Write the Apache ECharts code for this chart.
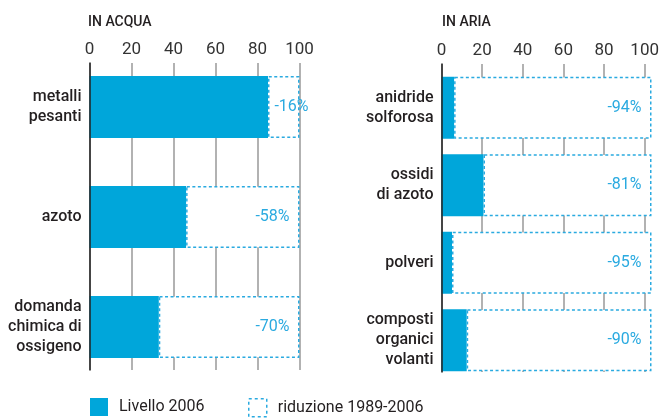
<!DOCTYPE html>
<html><head><meta charset="utf-8">
<script src="https://cdn.jsdelivr.net/npm/echarts@6/dist/echarts.min.js"></script>
<style>html,body{margin:0;padding:0;background:#fff}#c{width:662px;height:418px}</style>
</head><body><div id="c"></div>
<script>
const categoriesAcqua = ['metalli\npesanti', 'azoto', 'domanda\nchimica di\nossigeno'];
const livelloAcqua = [85, 46, 33];
const riduzioneAcqua = ['-16%', '-58%', '-70%'];
const categoriesAria = ['anidride\nsolforosa', 'ossidi\ndi azoto', 'polveri', 'composti\norganici\nvolanti'];
const livelloAria = [6, 20, 5, 12];
const riduzioneAria = ['-94%', '-81%', '-95%', '-90%'];
const xMin = 0, xMax = 100, xStep = 20;
const titles = ['IN ACQUA', 'IN ARIA'];

const BLUE = '#00a6da';
const LBLUE = '#2aaae0';
const FONT = 'Roboto';

const chart = echarts.init(document.getElementById('c'));

function remainder(vals, offsets) {
  return vals.map((v, i) => {
    const item = { value: xMax - v };
    if (offsets && offsets[i]) item.label = { offset: offsets[i] };
    return item;
  });
}

const catAxis = (data, gi) => ({
  type: 'category', gridIndex: gi, data: data, inverse: true,
  axisLine: { show: false }, axisTick: { show: false },
  axisLabel: { color: '#231f20', fontFamily: FONT, fontSize: 16, fontWeight: 500, lineHeight: 20, margin: 8, align: 'right' }
});
const hiddenX = gi => ({ type: 'value', gridIndex: gi, min: xMin, max: xMax, show: false });
const lineX = gi => ({
  type: 'value', gridIndex: gi, min: xMin, max: xMax, interval: xStep, position: 'top',
  axisLine: { show: false }, axisTick: { show: false },
  axisLabel: { color: '#333', fontFamily: FONT, fontSize: 17, margin: 5 },
  splitLine: { show: true, lineStyle: { color: '#999', width: 1.5 } }
});
const lineY = gi => ({
  type: 'value', gridIndex: gi, min: 0, max: 1, z: 5,
  axisLine: { show: true, lineStyle: { color: '#222', width: 1.5 } },
  axisTick: { show: false }, axisLabel: { show: false }, splitLine: { show: false }
});

const livelloStyle = { color: BLUE };
const ridStyle = { color: '#fff', borderColor: LBLUE, borderWidth: 1.5, borderType: [3, 2.5] };
const ridLabel = arr => ({
  show: true, position: 'insideRight', distance: 10, color: LBLUE, fontFamily: FONT, fontSize: 16,
  formatter: p => arr[p.dataIndex]
});
const legendText = { fontFamily: FONT, fontSize: 16, color: '#231f20', padding: [0, 0, 0, 6] };

const option = {
  animation: false,
  title: [
    { text: titles[0], left: 83, top: 10, textStyle: { fontFamily: FONT, fontSize: 14, fontWeight: 500, color: '#231f20' } },
    { text: titles[1], left: 437, top: 10, textStyle: { fontFamily: FONT, fontSize: 14, fontWeight: 500, color: '#231f20' } }
  ],
  grid: [
    { left: 89.5, width: 210, top: 52, height: 330 },
    { left: 89.5, width: 210, top: 63, height: 307 },
    { left: 441.5, width: 210, top: 69, height: 310 },
    { left: 441.5, width: 210, top: 64, height: 308 }
  ],
  xAxis: [hiddenX(0), lineX(1), hiddenX(2), lineX(3)],
  yAxis: [catAxis(categoriesAcqua, 0), lineY(1), catAxis(categoriesAria, 2), lineY(3)],
  legend: [
    { data: ['Livello 2006'], left: 90, top: 398, padding: 0, itemWidth: 18, itemHeight: 18, icon: 'rect',
      itemStyle: { color: BLUE, borderWidth: 0 }, textStyle: legendText },
    { data: ['riduzione 1989-2006'], left: 248, top: 398, padding: 0, itemWidth: 18, itemHeight: 18, icon: 'rect',
      itemStyle: { color: '#fff', borderColor: LBLUE, borderWidth: 1.5, borderType: [3, 3] }, textStyle: legendText }
  ],
  series: [
    { name: 'Livello 2006', type: 'bar', stack: 'a', xAxisIndex: 0, yAxisIndex: 0, barWidth: 62,
      data: livelloAcqua, itemStyle: livelloStyle },
    { name: 'riduzione 1989-2006', type: 'bar', stack: 'a', xAxisIndex: 0, yAxisIndex: 0, barWidth: 62,
      data: remainder(livelloAcqua, [[19, 0]]), itemStyle: ridStyle, label: ridLabel(riduzioneAcqua) },
    { name: 'Livello 2006', type: 'bar', stack: 'b', xAxisIndex: 2, yAxisIndex: 2, barWidth: 62,
      data: livelloAria, itemStyle: livelloStyle },
    { name: 'riduzione 1989-2006', type: 'bar', stack: 'b', xAxisIndex: 2, yAxisIndex: 2, barWidth: 62,
      data: remainder(livelloAria), itemStyle: ridStyle, label: ridLabel(riduzioneAria) }
  ]
};
chart.setOption(option);
</script></body></html>
